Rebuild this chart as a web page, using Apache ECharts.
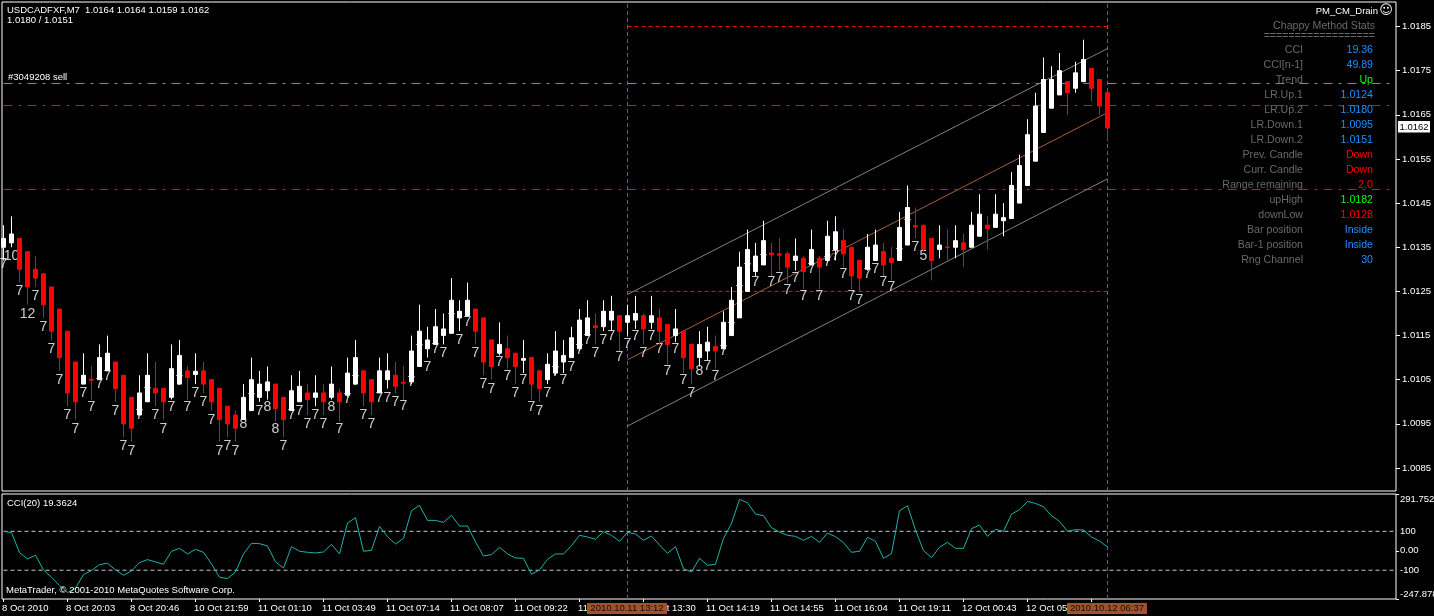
<!DOCTYPE html>
<html>
<head>
<meta charset="utf-8">
<style>html,body{margin:0;padding:0;background:#000;overflow:hidden}#c{width:1434px;height:616px}</style>
<script src="https://cdn.jsdelivr.net/npm/echarts@6/dist/echarts.min.js"></script>
</head>
<body>
<div id="c"></div>
<script>
const opens=[1.0135,1.0136,1.0137,1.0134,1.0130,1.0129,1.0126,1.0121,1.0116,1.0109,1.0104,1.01051,1.0105,1.0107,1.0109,1.0106,1.0101,1.0097,1.0100,1.0103,1.0103,1.0101,1.0104,1.0107,1.01062,1.0107,1.0105,1.0103,1.0099,1.0097,1.0096,1.0098,1.0101,1.01025,1.0104,1.0101,1.0098,1.0100,1.0102,1.0101,1.0102,1.0101,1.0102,1.01015,1.0104,1.0107,1.0105,1.0102,1.0105,1.0106,1.01044,1.01045,1.0108,1.0112,1.0113,1.0115,1.01155,1.0119,1.01195,1.0121,1.0119,1.0114,1.0111,1.0112,1.0111,1.01094,1.0110,1.0107,1.0105,1.01065,1.0109,1.0110,1.0112,1.0115,1.01172,1.0117,1.01185,1.01195,1.0118,1.01185,1.01195,1.0118,1.0119,1.01175,1.0115,1.0116,1.0113,1.0110,1.01115,1.01125,1.0112,1.0115,1.0119,1.0125,1.01295,1.0131,1.01337,1.01335,1.01335,1.0132,1.01325,1.0131,1.01325,1.0132,1.01345,1.01365,1.0135,1.0132,1.0130,1.0132,1.0134,1.01325,1.0132,1.01355,1.01399,1.0140,1.0137,1.01345,1.0135,1.0135,1.0136,1.0135,1.01375,1.0140,1.01395,1.0141,1.01415,1.0145,1.0149,1.01545,1.0161,1.01665,1.01695,1.01725,1.0171,1.01725,1.01755,1.0173,1.0170];
const closes=[1.0137,1.0138,1.0130,1.0126,1.0128,1.0122,1.0116,1.0110,1.0102,1.0100,1.0106,1.01049,1.0110,1.0111,1.0103,1.0095,1.0094,1.0102,1.0106,1.0102,1.0100,1.01075,1.01105,1.01055,1.01069,1.0104,1.0100,1.0096,1.0095,1.0094,1.0101,1.0105,1.0104,1.01045,1.00985,1.0096,1.01025,1.01035,1.01005,1.0102,1.0100,1.0104,1.0100,1.01065,1.0110,1.0102,1.0100,1.0107,1.0107,1.01035,1.01042,1.01115,1.0116,1.0114,1.0117,1.01165,1.0123,1.01205,1.0123,1.0116,1.0109,1.0108,1.0113,1.0110,1.0108,1.01098,1.0104,1.0103,1.01085,1.01115,1.01105,1.01145,1.01185,1.0119,1.01168,1.01205,1.01205,1.0116,1.01195,1.0120,1.01165,1.01195,1.0116,1.0113,1.01165,1.0110,1.01075,1.0113,1.01135,1.01115,1.0118,1.0123,1.01305,1.01345,1.0133,1.01365,1.01333,1.01332,1.01305,1.0133,1.01295,1.01345,1.01305,1.01375,1.01385,1.01335,1.01285,1.0128,1.0135,1.01355,1.0131,1.01315,1.01395,1.0144,1.01396,1.01345,1.0132,1.01355,1.0135,1.01365,1.01345,1.0140,1.01425,1.01392,1.01425,1.01417,1.0149,1.01535,1.01605,1.0167,1.0173,1.0173,1.0175,1.0170,1.01745,1.01775,1.0171,1.0167,1.0162];
const lows=[1.0132,1.0135,1.0127,1.0122,1.0126,1.0119,1.0114,1.0107,1.0099,1.0096,1.0104,1.01005,1.0105,1.0107,1.0100,1.0092,1.0091,1.0097,1.0100,1.0099,1.0096,1.01005,1.0104,1.01005,1.0104,1.0102,1.0098,1.0091,1.0092,1.0091,1.0096,1.0098,1.0100,1.01005,1.00955,1.0092,1.0098,1.0100,1.0097,1.0099,1.0097,1.01005,1.00955,1.0101,1.0104,1.0099,1.0097,1.0102,1.0103,1.0102,1.01005,1.0104,1.0108,1.0110,1.0113,1.0113,1.01155,1.0116,1.01195,1.0113,1.0106,1.0105,1.01105,1.01075,1.0104,1.01065,1.01005,1.0100,1.0104,1.0106,1.01065,1.0110,1.01115,1.0115,1.0113,1.0116,1.0116,1.01115,1.0115,1.01165,1.0113,1.01165,1.0113,1.01085,1.01135,1.01065,1.0104,1.0108,1.01095,1.01075,1.0112,1.0115,1.0119,1.0125,1.01285,1.0131,1.01285,1.01297,1.0127,1.01297,1.01255,1.0131,1.01255,1.01315,1.0132,1.01305,1.01255,1.0125,1.01297,1.0132,1.01285,1.01275,1.0132,1.01355,1.0137,1.0134,1.01275,1.01325,1.0132,1.01325,1.01305,1.0135,1.01375,1.01345,1.01395,1.01375,1.01415,1.0145,1.0149,1.01545,1.0161,1.01665,1.01695,1.0165,1.0170,1.01725,1.0168,1.0165,1.0159];
const highs=[1.0140,1.0142,1.0137,1.0134,1.0133,1.0129,1.0126,1.0121,1.0116,1.0109,1.0111,1.0108,1.0113,1.0115,1.0109,1.0106,1.0101,1.0106,1.0111,1.0109,1.0103,1.0113,1.0114,1.0108,1.0111,1.0109,1.0105,1.0103,1.0099,1.0098,1.0104,1.0110,1.0107,1.0108,1.0104,1.0101,1.0106,1.0107,1.0104,1.0106,1.0104,1.0108,1.0103,1.0110,1.0114,1.0107,1.0105,1.0110,1.0111,1.0109,1.0108,1.0115,1.0122,1.0117,1.0121,1.0120,1.0128,1.0123,1.0127,1.0121,1.0119,1.0114,1.0118,1.0115,1.0111,1.0114,1.0110,1.0107,1.0111,1.0116,1.0114,1.0117,1.0121,1.0123,1.0120,1.0123,1.0124,1.01195,1.0122,1.0124,1.0120,1.0124,1.0121,1.01175,1.0121,1.0116,1.0113,1.0116,1.0117,1.0115,1.01205,1.0126,1.0134,1.0139,1.0136,1.0141,1.0136,1.0137,1.0134,1.0137,1.0133,1.0139,1.0133,1.0141,1.0142,1.0139,1.0135,1.0132,1.0138,1.0139,1.0136,1.0135,1.0143,1.0149,1.0144,1.0140,1.0137,1.0140,1.0139,1.0140,1.0138,1.0143,1.0147,1.0142,1.0147,1.0145,1.0152,1.0156,1.0164,1.0170,1.0178,1.0176,1.0179,1.01725,1.0177,1.0182,1.01755,1.0173,1.0170];
const labelTexts=['7','10','7','12','7','7','7','7','7','7','7','7','7','7','7','7','7','7','7','7','7','7','7','7','7','7','7','7','7','7','8','7','7','8','8','7','7','7','7','7','7','8','7','7','7','7','7','7','7','7','7','7','7','7','7','7','7','7','7','7','7','7','7','7','7','7','7','7','7','7','7','7','7','7','7','7','7','7','7','7','7','7','7','7','7','7','7','8','7','7','7','7','7','7','7','7','7','7','7','7','7','7','7','7','7','7','7','7','7','7','7','7','7','7','7','5'];
const labelPrices=[1.01312,1.0133,1.0125,1.01198,1.01239,1.01169,1.0112,1.01048,1.0097,1.00938,1.0102,1.00988,1.0104,1.01058,1.00979,1.0090,1.00888,1.0097,1.01019,1.0097,1.00938,1.00988,1.01047,1.00988,1.0102,1.00999,1.00958,1.00888,1.0090,1.00888,1.00949,1.01007,1.00979,1.00988,1.00938,1.0090,1.00969,1.00979,1.00949,1.00969,1.0095,1.00988,1.00939,1.01007,1.01047,1.0097,1.0095,1.01009,1.01009,1.00999,1.00989,1.01044,1.01118,1.01078,1.0112,1.0111,1.01188,1.0114,1.0118,1.0111,1.0104,1.01029,1.0109,1.01058,1.0102,1.0105,1.00988,1.00979,1.0102,1.01067,1.0105,1.01078,1.01116,1.0114,1.0111,1.0114,1.01149,1.0110,1.01131,1.01149,1.0111,1.01149,1.0112,1.01069,1.0112,1.0105,1.01019,1.01069,1.0108,1.01058,1.01115,1.01167,1.0125,1.0130,1.0127,1.0132,1.0127,1.0128,1.01252,1.0128,1.0124,1.0130,1.0124,1.01316,1.0133,1.0129,1.0124,1.0123,1.01288,1.0130,1.0127,1.0126,1.01335,1.01399,1.0135,1.0133];
const cciValues=[99.8,93,-9.6,-42,-23.2,-98.5,-136,-178.8,-214.7,-192.5,-122.4,-101.9,-71.1,-64.3,-98.5,-125.8,-103.6,-60.9,-45.5,-57.4,-69.4,-2.7,12.6,-16.4,7.5,-7.9,-67.7,-136,-142.9,-108.7,-16.4,38.3,36.6,24.6,-57.4,-88.2,21.2,-2.7,-7.9,-11.3,-6.2,33.2,-16.4,142.6,169.9,-2.7,2.4,125.5,72.5,34.9,63.9,205.8,233.2,156.2,156.2,146,181.9,127.2,127.2,45.1,-26.7,-19.8,17.8,-16.4,-37,-38.6,-120.7,-98.5,-43.8,-16.4,-16.4,26.3,79.3,70.8,58.8,98.1,79.3,48.6,94.7,86.2,53.7,75.9,29.7,-13,21.2,-91.6,-108.7,-38.6,-74.5,-69.4,63.9,140.9,263.9,246.8,188.7,180.2,118.6,96.4,79.3,74.2,53.7,74.2,43.4,91.3,72.5,41.7,-7.9,-2.7,69.1,48.6,-38.6,-14.7,205.8,231.5,106.7,0.7,-35.2,17.8,43.4,12.6,12.6,113.5,132.3,74.2,110.1,99.8,188.7,211,253.7,243.4,226.3,180.2,151.1,99.8,108.4,106.7,70.8,49.89,19.36];
const timeLabels=['8 Oct 2010','8 Oct 20:03','8 Oct 20:46','10 Oct 21:59','11 Oct 01:10','11 Oct 03:49','11 Oct 07:14','11 Oct 08:07','11 Oct 09:22','11 Oct 12:30','11 Oct 13:30','11 Oct 14:19','11 Oct 14:55','11 Oct 16:04','11 Oct 19:11','12 Oct 00:43','12 Oct 05:27','12 Oct 06:23'];
const priceTicks=['1.0085','1.0095','1.0105','1.0115','1.0125','1.0135','1.0145','1.0155','1.0165','1.0175','1.0185'];
const cciTicks=['-247.878','-100','0.00','100','291.7527'];
const cciLevels=[100,-100];
const selectedBars=[78,138];
const selectedTimes=['2010.10.11 13:12','2010.10.12 06:37'];
const rangeLevels=[1.0185,1.0125];
const orderLevel=[1.01721];
const redLevels=[1.01671,1.01481];
const channelUpper=[1.01243,1.0180];
const channelMiddle=[1.01095,1.01655];
const channelLower=[1.00945,1.01505];
const statNames=['CCI','CCI[n-1]','Trend','LR.Up.1','LR.Up.2','LR.Down.1','LR.Down.2','Prev. Candle','Curr. Candle','Range remaining','upHigh','downLow','Bar position','Bar-1 position','Rng Channel'];
const statValues=['19.36','49.89','Up','1.0124','1.0180','1.0095','1.0151','Down','Down','2.0','1.0182','1.0128','Inside','Inside','30'];
const statColors=['#1e90ff','#1e90ff','#00ff00','#1e90ff','#1e90ff','#1e90ff','#1e90ff','#ff0000','#ff0000','#ff0000','#00ff00','#ff0000','#1e90ff','#1e90ff','#1e90ff'];

const FONT='"Liberation Sans",Arial,sans-serif';
const xMin=-0.1875,xMax=174.0625;
const pMin=1.007979,pMax=1.0190549;
const cMin=-247.878,cMax=291.7527;
const tickPos=timeLabels.map((_,i)=>i*8);
const RED='#f01010';

function seg(name,pts,color,dash,grid,z){
  return {type:'line',name,xAxisIndex:grid,yAxisIndex:grid,data:pts,showSymbol:false,symbol:'none',silent:true,z:z||2,
    lineStyle:{color,width:1,type:dash||'solid',opacity:1},animation:false};
}
const series=[];
selectedBars.forEach(b=>{
  series.push(seg('cursor',[[b,pMin],[b,pMax]],'#a0522d',[4,3],0));
  series.push(seg('cursor',[[b,cMin],[b,cMax]],'#a0522d',[4,3],1));
});
rangeLevels.forEach(v=>series.push(seg('range',[[selectedBars[0],v],[selectedBars[1],v]],RED,[4,3],0)));
orderLevel.forEach(v=>series.push(seg('order',[[0,v],[xMax,v]],'#5f9ea0',[9,6,3,6],0)));
redLevels.forEach(v=>series.push(seg('level',[[0,v],[xMax,v]],RED,[9,6,3,6],0)));
series.push(seg('upper',selectedBars.map((b,i)=>[b,channelUpper[i]]),'#808080','solid',0));
series.push(seg('middle',selectedBars.map((b,i)=>[b,channelMiddle[i]]),'#a5603a','solid',0));
series.push(seg('lower',selectedBars.map((b,i)=>[b,channelLower[i]]),'#808080','solid',0));
series.push({type:'scatter',name:'counts',xAxisIndex:0,yAxisIndex:0,z:4,silent:true,animation:false,
  symbol:'circle',symbolSize:1,itemStyle:{color:'transparent'},
  data:labelTexts.map((t,i)=>[i,labelPrices[i],t]),
  label:{show:true,position:'inside',color:'#fff',fontSize:14,fontFamily:FONT,formatter:p=>p.value[2]},
  labelLayout:{hideOverlap:false}});
series.push({type:'candlestick',name:'USDCADFXF,M7',xAxisIndex:0,yAxisIndex:0,z:5,silent:true,animation:false,
  barWidth:4,
  itemStyle:{color:'#ffffff',color0:'#ff0000',borderColor:'#ffffff',borderColor0:'#ff0000',borderWidth:1},
  data:opens.map((o,i)=>[i,o,closes[i],lows[i],highs[i]])});
series.push(seg('CCI(20)',cciValues.map((v,i)=>[i,v]),'#20b2aa','solid',1,3));
cciLevels.forEach(v=>series.push(seg('level',[[0,v],[xMax,v]],'#c8c8c8',[4,3],1)));

const graphics=[];
function txt(text,x,y,color,size,align,extra){
  graphics.push(Object.assign({type:'text',silent:true,z:20,style:{text,x,y,fill:color,fontSize:size,fontFamily:FONT,align:align||'left',verticalAlign:'middle'}},extra||{}));
}
txt('USDCADFXF,M7  1.0164 1.0164 1.0159 1.0162',7,10.5,'#fff',9.5);
txt('1.0180 / 1.0151',7,20.5,'#fff',9.5);
txt('#3049208 sell',8,77.5,'#fff',9.5);
txt('CCI(20) 19.3624',7,503.5,'#fff',9.5);
txt('MetaTrader, © 2001-2010 MetaQuotes Software Corp.',6,590.5,'#fff',9.5);
txt('PM_CM_Drain',1378,11.5,'#fff',9.5,'right');
txt('☺',1386,11,'#fff',13,'center');
graphics[graphics.length-1].style.fontFamily='"DejaVu Sans"';
txt('Chappy Method Stats',1375,26,'#696969',10.6,'right');
txt('==================',1375,36,'#696969',10.6,'right');
statNames.forEach((n,i)=>{
  txt(n,1303,50.5+15*i,'#696969',10.6,'right');
  txt(statValues[i],1373,50.5+15*i,statColors[i],10.6,'right');
});
graphics.push({type:'rect',silent:true,z:19,shape:{x:1398,y:121,width:32,height:11.5},style:{fill:'#fff'}});
txt('1.0162',1414,127,'#000',9.5,'center');
selectedTimes.forEach((t,i)=>{
  const cx=3+8*selectedBars[i];
  graphics.push({type:'rect',silent:true,z:19,shape:{x:cx-40,y:603,width:80,height:11},style:{fill:'#a0522d'}});
  txt(t,cx,608.5,'#1a0d06',9.5,'center');
});

const axisCommon={show:false,type:'value',min:xMin,max:xMax,splitLine:{show:false}};
const option={
  backgroundColor:'#000',
  animation:false,
  grid:[
    {left:2,top:2,width:1394,height:489,show:true,borderColor:'#fff',borderWidth:1,backgroundColor:'transparent',containLabel:false,outerBoundsMode:'none'},
    {left:2,top:494,width:1394,height:105,show:true,borderColor:'#fff',borderWidth:1,backgroundColor:'transparent',containLabel:false,outerBoundsMode:'none'}
  ],
  xAxis:[
    Object.assign({gridIndex:0},axisCommon),
    {gridIndex:1,type:'value',position:'bottom',min:xMin,max:xMax,show:true,splitLine:{show:false},
      axisLine:{show:false,onZero:false},
      axisTick:{show:true,length:3,customValues:tickPos,lineStyle:{color:'#fff',width:1}},
      axisLabel:{show:true,customValues:tickPos.map(v=>v-0.18),align:'left',margin:4,color:'#fff',fontSize:9.5,fontFamily:FONT,hideOverlap:false,
        showMinLabel:true,showMaxLabel:true,formatter:v=>timeLabels[Math.round(v/8)]}}
  ],
  yAxis:[
    {gridIndex:0,type:'value',position:'right',min:pMin,max:pMax,splitLine:{show:false},axisLine:{show:false,onZero:false},scale:true,
      axisTick:{show:true,length:4,customValues:priceTicks.map(Number),lineStyle:{color:'#fff'}},
      axisLabel:{show:true,customValues:priceTicks.map(Number),margin:6,color:'#fff',fontSize:9.5,fontFamily:FONT,formatter:v=>v.toFixed(4)}},
    {gridIndex:1,type:'value',position:'right',min:cMin,max:cMax,splitLine:{show:false},axisLine:{show:false,onZero:false},scale:true,
      axisTick:{show:true,length:3,customValues:[cMin,0,cMax],lineStyle:{color:'#fff'}},
      axisLabel:{show:true,customValues:cciTicks.map(Number),margin:4,color:'#fff',fontSize:9.5,fontFamily:FONT,
        verticalAlignMaxLabel:'top',verticalAlignMinLabel:'bottom',
        formatter:v=>cciTicks[cciTicks.map(Number).indexOf(v)]}}
  ],
  series,
  graphic:{elements:graphics}
};
const chart=echarts.init(document.getElementById('c'),null,{renderer:'canvas',width:1434,height:616});
chart.setOption(option);
</script>
</body>
</html>
